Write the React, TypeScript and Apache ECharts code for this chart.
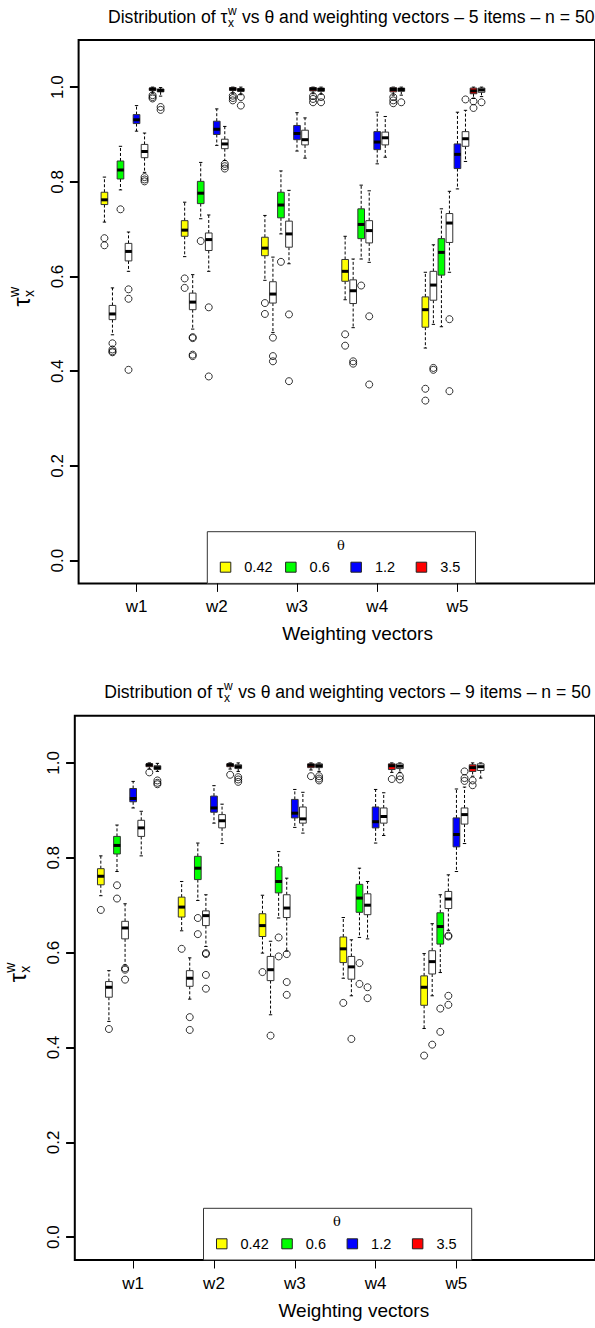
import React, { useEffect, useRef } from "react";
import * as echarts from "echarts";

// ---------- data ----------
const groups = ["w1", "w2", "w3", "w4", "w5"];
const thetaLabels = ["0.42", "0.6", "1.2", "3.5"];
const yTickValues = [0, 0.2, 0.4, 0.6, 0.8, 1.0];
const xTickValues = [1, 2, 3, 4, 5];
const titles = ["5 items – n = 50", "9 items – n = 50"];

// box stats per group w1..w5: [lower whisker, Q1, median, Q3, upper whisker]
// Panel A (5 items): coloured boxes (theta) and their white companion boxes
const a_col_042 = [[0.715, 0.752, 0.762, 0.778, 0.810], [0.642, 0.685, 0.698, 0.718, 0.757], [0.592, 0.644, 0.660, 0.683, 0.729], [0.551, 0.590, 0.611, 0.636, 0.685], [0.449, 0.493, 0.530, 0.557, 0.609]];
const a_ref_042 = [[0.477, 0.509, 0.521, 0.539, 0.576], [0.489, 0.530, 0.546, 0.565, 0.604], [0.482, 0.544, 0.563, 0.589, 0.641], [0.492, 0.543, 0.570, 0.593, 0.637], [0.499, 0.550, 0.582, 0.611, 0.667]];
const a_col_06 = [[0.783, 0.806, 0.825, 0.844, 0.875], [0.722, 0.754, 0.776, 0.801, 0.841], [0.690, 0.724, 0.751, 0.778, 0.823], [0.637, 0.680, 0.710, 0.743, 0.793], [0.494, 0.603, 0.651, 0.680, 0.743]];
const a_ref_06 = [[0.611, 0.633, 0.653, 0.670, 0.694], [0.611, 0.655, 0.678, 0.692, 0.730], [0.627, 0.662, 0.690, 0.717, 0.782], [0.630, 0.671, 0.697, 0.718, 0.781], [0.609, 0.672, 0.713, 0.733, 0.780]];
const a_col_12 = [[0.907, 0.923, 0.931, 0.942, 0.961], [0.877, 0.900, 0.911, 0.928, 0.954], [0.865, 0.889, 0.902, 0.919, 0.946], [0.838, 0.868, 0.884, 0.906, 0.947], [0.785, 0.828, 0.858, 0.880, 0.947]];
const a_ref_12 = [[0.820, 0.851, 0.864, 0.879, 0.903], [0.845, 0.870, 0.880, 0.890, 0.917], [0.850, 0.878, 0.889, 0.909, 0.935], [0.852, 0.878, 0.893, 0.905, 0.938], [0.843, 0.875, 0.891, 0.906, 0.951]];
const a_col_35 = [[0.988, 0.993, 0.996, 0.998, 1.0], [0.987, 0.993, 0.996, 0.999, 1.0], [0.986, 0.992, 0.996, 0.999, 1.0], [0.983, 0.990, 0.995, 0.999, 1.0], [0.976, 0.986, 0.992, 0.998, 1.0]];
const a_ref_35 = [[0.981, 0.990, 0.993, 0.996, 0.999], [0.984, 0.991, 0.994, 0.997, 1.0], [0.985, 0.991, 0.995, 0.998, 1.0], [0.983, 0.991, 0.995, 0.998, 1.0], [0.980, 0.989, 0.994, 0.998, 1.0]];

const a_out_col_042 = [[0.681, 0.666], [0.596, 0.576], [0.544, 0.521], [0.478, 0.454], [0.363, 0.338]];
const a_out_ref_042 = [[0.459, 0.446, 0.442, 0.440], [0.472, 0.470, 0.435, 0.432], [0.471, 0.432, 0.421], [0.421, 0.416], [0.407, 0.403]];
const a_out_col_06 = [[0.742], [0.675], [0.631], [0.581], []];
const a_out_ref_06 = [[0.573, 0.553, 0.403], [0.535, 0.389], [0.520, 0.379], [0.516, 0.372], [0.510, 0.358]];
const a_out_col_12 = [[], [], [], [], []];
const a_out_ref_12 = [[0.810, 0.805, 0.801], [0.838, 0.833, 0.828], [], [], [0.974]];
const a_out_col_35 = [[0.983, 0.979, 0.976], [0.982, 0.977, 0.972], [0.981, 0.975, 0.968], [0.979, 0.972, 0.966], [0.970, 0.956]];
const a_out_ref_35 = [[0.958, 0.952], [0.979, 0.961], [0.979, 0.968], [0.968], [0.968]];

// Panel B (9 items)
const b_col_042 = [[0.720, 0.743, 0.761, 0.777, 0.804], [0.646, 0.675, 0.696, 0.717, 0.750], [0.599, 0.634, 0.657, 0.682, 0.721], [0.546, 0.579, 0.608, 0.633, 0.674], [0.440, 0.489, 0.527, 0.551, 0.598]];
const b_ref_042 = [[0.455, 0.506, 0.527, 0.539, 0.562], [0.502, 0.529, 0.546, 0.562, 0.589], [0.469, 0.541, 0.564, 0.592, 0.624], [0.509, 0.544, 0.570, 0.592, 0.627], [0.509, 0.555, 0.581, 0.604, 0.661]];
const b_col_06 = [[0.771, 0.808, 0.826, 0.845, 0.869], [0.710, 0.754, 0.778, 0.803, 0.831], [0.673, 0.726, 0.750, 0.781, 0.813], [0.632, 0.685, 0.715, 0.744, 0.778], [0.558, 0.618, 0.655, 0.684, 0.722]];
const b_ref_06 = [[0.574, 0.629, 0.652, 0.666, 0.703], [0.613, 0.657, 0.678, 0.688, 0.722], [0.603, 0.674, 0.694, 0.722, 0.757], [0.629, 0.680, 0.700, 0.724, 0.750], [0.647, 0.693, 0.713, 0.729, 0.764]];
const b_col_12 = [[0.905, 0.918, 0.925, 0.946, 0.961], [0.873, 0.896, 0.905, 0.930, 0.952], [0.864, 0.884, 0.894, 0.923, 0.944], [0.831, 0.863, 0.876, 0.907, 0.944], [0.771, 0.823, 0.849, 0.884, 0.945]];
const b_ref_12 = [[0.804, 0.845, 0.863, 0.879, 0.898], [0.830, 0.863, 0.878, 0.891, 0.913], [0.852, 0.873, 0.882, 0.907, 0.938], [0.847, 0.873, 0.887, 0.905, 0.937], [0.830, 0.871, 0.891, 0.905, 0.949]];
const b_col_35 = [[0.987, 0.992, 0.996, 0.998, 1.0], [0.987, 0.992, 0.996, 0.998, 1.0], [0.985, 0.990, 0.995, 0.998, 1.0], [0.980, 0.986, 0.994, 0.998, 1.0], [0.972, 0.982, 0.990, 0.996, 1.0]];
const b_ref_35 = [[0.982, 0.986, 0.990, 0.994, 0.999], [0.982, 0.988, 0.992, 0.996, 1.0], [0.982, 0.990, 0.994, 0.998, 1.0], [0.980, 0.988, 0.993, 0.998, 1.0], [0.968, 0.984, 0.992, 0.998, 1.0]];

const b_out_col_042 = [[0.690], [0.608], [0.559], [0.494], [0.383]];
const b_out_ref_042 = [[0.439], [0.464, 0.437], [0.425], [0.418], [0.406]];
const b_out_col_06 = [[0.742, 0.714], [0.673, 0.639], [0.632, 0.592], [0.578, 0.534], [0.482, 0.433]];
const b_out_ref_06 = [[0.567, 0.564, 0.543], [0.599, 0.597, 0.553, 0.524], [0.597, 0.538, 0.511], [0.527, 0.504], [0.636, 0.634, 0.509, 0.490]];
const b_out_col_12 = [[], [], [], [], []];
const b_out_ref_12 = [[], [], [], [], [0.982, 0.968, 0.962]];
const b_out_col_35 = [[0.980], [0.975], [0.972], [0.966], [0.963, 0.953]];
const b_out_ref_35 = [[0.963, 0.958, 0.955], [0.970, 0.965, 0.960], [0.972, 0.967, 0.963], [0.972, 0.965], []];

const panelStats = [
  [a_col_042, a_ref_042, a_col_06, a_ref_06, a_col_12, a_ref_12, a_col_35, a_ref_35],
  [b_col_042, b_ref_042, b_col_06, b_ref_06, b_col_12, b_ref_12, b_col_35, b_ref_35],
];
const panelOutliers = [
  [a_out_col_042, a_out_ref_042, a_out_col_06, a_out_ref_06, a_out_col_12, a_out_ref_12, a_out_col_35, a_out_ref_35],
  [b_out_col_042, b_out_ref_042, b_out_col_06, b_out_ref_06, b_out_col_12, b_out_ref_12, b_out_col_35, b_out_ref_35],
];

// ---------- style / layout ----------
const FONT = "'Liberation Sans', Arial, Helvetica, sans-serif";
const thetaColors = ["#FFFF00", "#00FF00", "#0000FF", "#FF0000"];
const layout = [
  { left: 78.6, top: 40, height: 543.4 },
  { left: 74.8, top: 715.7, height: 544.3 },
];
const GRID_W = 568;
const X_MIN = 0.278;
const X_MAX = X_MIN + GRID_W / 88.25;
const Y_MIN = -0.048;
const Y_MAX = 1.0995;
const SLOT = 0.1;
const BOX_W = 0.083;

function xPos(g: number, k: number) {
  return g + 1 + (k - 4) * SLOT;
}

let measureCtx: CanvasRenderingContext2D | null = null;
function textWidth(text: string, size: number) {
  if (!measureCtx) measureCtx = document.createElement("canvas").getContext("2d");
  if (!measureCtx) return text.length * size * 0.5;
  measureCtx.font = `${size}px ${FONT}`;
  return measureCtx.measureText(text).width;
}

function boxRenderer(fill: string) {
  return (params: any, api: any) => {
    const x = api.value(0);
    const pLo = api.coord([x, api.value(1)]);
    const pQ1 = api.coord([x, api.value(2)]);
    const pMd = api.coord([x, api.value(3)]);
    const pQ3 = api.coord([x, api.value(4)]);
    const pHi = api.coord([x, api.value(5)]);
    const bw = api.size([BOX_W, 0])[0];
    const cx = pMd[0];
    const dash = { stroke: "#000", lineWidth: 1, lineDash: [3, 2] };
    const solid = { stroke: "#000", lineWidth: 1 };
    return {
      type: "group",
      children: [
        { type: "line", shape: { x1: cx, y1: pQ3[1], x2: cx, y2: pHi[1] }, style: dash },
        { type: "line", shape: { x1: cx, y1: pQ1[1], x2: cx, y2: pLo[1] }, style: dash },
        { type: "line", shape: { x1: cx - bw / 4, y1: pHi[1], x2: cx + bw / 4, y2: pHi[1] }, style: solid },
        { type: "line", shape: { x1: cx - bw / 4, y1: pLo[1], x2: cx + bw / 4, y2: pLo[1] }, style: solid },
        {
          type: "rect",
          shape: { x: cx - bw / 2, y: pQ3[1], width: bw, height: Math.max(pQ1[1] - pQ3[1], 0.5) },
          style: { fill, stroke: "#333", lineWidth: 1 },
        },
        { type: "line", shape: { x1: cx - bw / 2, y1: pMd[1], x2: cx + bw / 2, y2: pMd[1] }, style: { stroke: "#000", lineWidth: 3 } },
      ],
    };
  };
}

function titleGraphic(p: number) {
  const L = layout[p];
  const x0 = L.left + 29.4;
  const yc = L.top - 23.5;
  const fs = 17.6;
  const s1 = "Distribution of τ";
  const s2 = " vs θ and weighting vectors – " + titles[p];
  const w1 = textWidth(s1, fs);
  const wsup = Math.max(textWidth("w", 12), textWidth("x", 12));
  const common = { fill: "#000", fontFamily: FONT, verticalAlign: "middle", align: "left" };
  return [
    { type: "text", x: x0, y: yc, style: { ...common, text: s1, fontSize: fs } },
    { type: "text", x: x0 + w1 + 0.5, y: yc - 6, style: { ...common, text: "w", fontSize: 12 } },
    { type: "text", x: x0 + w1 + 0.5, y: yc + 6, style: { ...common, text: "x", fontSize: 12 } },
    { type: "text", x: x0 + w1 + wsup + 1, y: yc, style: { ...common, text: s2, fontSize: fs } },
  ];
}

function yNameGraphic(p: number) {
  const L = layout[p];
  const cx = L.left - 57;
  const cy = L.top + 262;
  const tw = textWidth("τ", 23);
  const common = { fill: "#000", fontFamily: FONT, verticalAlign: "middle" };
  return {
    type: "group",
    x: cx,
    y: cy,
    rotation: Math.PI / 2,
    children: [
      { type: "text", x: 0, y: 0, style: { ...common, text: "τ", fontSize: 23, align: "center" } },
      { type: "text", x: tw / 2 + 0.5, y: -8, style: { ...common, text: "w", fontSize: 14, align: "left" } },
      { type: "text", x: tw / 2 + 0.5, y: 7, style: { ...common, text: "x", fontSize: 14, align: "left" } },
    ],
  };
}

function xNameGraphic(p: number) {
  const L = layout[p];
  return {
    type: "text",
    x: L.left + 279,
    y: L.top + L.height + 50,
    style: { text: "Weighting vectors", fill: "#000", fontFamily: FONT, fontSize: 19, align: "center", verticalAlign: "middle" },
  };
}

function legendGraphic(p: number) {
  const L = layout[p];
  const bx = L.left + 128.7;
  const by = L.top + L.height - 51.7;
  const children: any[] = [
    { type: "rect", shape: { x: bx, y: by, width: 268.2, height: 51.7 }, style: { fill: "#fff", stroke: "#333", lineWidth: 1 } },
    {
      type: "text",
      x: bx + 133.5,
      y: by + 13.5,
      style: { text: "θ", fill: "#000", fontFamily: "'DejaVu Serif', serif", fontSize: 13, align: "center", verticalAlign: "middle" },
    },
  ];
  thetaLabels.forEach((lab, i) => {
    const sx = bx + 13 + i * 65.3;
    const sy = by + 35.5;
    children.push({ type: "rect", shape: { x: sx, y: sy - 5, width: 10.5, height: 10 }, style: { fill: thetaColors[i], stroke: "#222", lineWidth: 1 } });
    children.push({
      type: "text",
      x: sx + 24,
      y: sy,
      style: { text: lab, fill: "#000", fontFamily: FONT, fontSize: 14.5, align: "left", verticalAlign: "middle" },
    });
  });
  return { type: "group", children };
}

function buildOption() {
  const grid: any[] = [];
  const xAxis: any[] = [];
  const yAxis: any[] = [];
  const series: any[] = [];
  const graphic: any[] = [];

  for (let p = 0; p < 2; p++) {
    const L = layout[p];
    grid.push({ left: L.left, top: L.top, width: GRID_W, height: L.height, show: true, borderColor: "#000", borderWidth: 2, backgroundColor: "transparent" });
    xAxis.push({
      gridIndex: p,
      type: "value",
      position: "bottom",
      min: X_MIN,
      max: X_MAX,
      splitLine: { show: false },
      axisLine: { show: false, onZero: false },
      axisTick: { show: true, length: 8.5, lineStyle: { color: "#000", width: 1 }, customValues: xTickValues },
      axisLabel: {
        customValues: xTickValues,
        formatter: (v: number) => groups[Math.round(v) - 1] ?? "",
        fontSize: 17,
        fontFamily: FONT,
        color: "#000",
        margin: 15,
      },
    });
    yAxis.push({
      gridIndex: p,
      type: "value",
      position: "left",
      min: Y_MIN,
      max: Y_MAX,
      splitLine: { show: false },
      axisLine: { show: false, onZero: false },
      axisTick: { show: true, length: 8.7, lineStyle: { color: "#000", width: 2 }, customValues: yTickValues },
      axisLabel: {
        customValues: yTickValues,
        rotate: 90,
        formatter: (v: number) => v.toFixed(1),
        fontSize: 17,
        fontFamily: FONT,
        color: "#000",
        margin: 13,
      },
    });

    const stats = panelStats[p];
    const outs = panelOutliers[p];
    stats.forEach((rows, k) => {
      const fill = k % 2 === 0 ? thetaColors[k / 2] : "#FFFFFF";
      series.push({
        type: "custom",
        xAxisIndex: p,
        yAxisIndex: p,
        dimensions: ["x", "lo", "q1", "med", "q3", "hi"],
        encode: { x: 0, y: [1, 2, 3, 4, 5] },
        data: rows.map((r, g) => [xPos(g, k), ...r]),
        renderItem: boxRenderer(fill),
        silent: true,
      });
    });
    const outData: number[][] = [];
    outs.forEach((perGroup, k) => {
      perGroup.forEach((vals, g) => {
        vals.forEach((v) => outData.push([xPos(g, k), v]));
      });
    });
    series.push({
      type: "scatter",
      xAxisIndex: p,
      yAxisIndex: p,
      data: outData,
      symbol: "circle",
      symbolSize: 7,
      itemStyle: { color: "rgba(0,0,0,0)", borderColor: "#000", borderWidth: 1 },
      silent: true,
      z: 3,
    });

    graphic.push(...titleGraphic(p));
    graphic.push(yNameGraphic(p));
    graphic.push(xNameGraphic(p));
    graphic.push(legendGraphic(p));
  }

  return {
    animation: false,
    backgroundColor: "#fff",
    grid,
    xAxis,
    yAxis,
    series,
    graphic,
  };
}

export default function App() {
  const ref = useRef<HTMLDivElement>(null);
  useEffect(() => {
    if (!ref.current) return;
    const chart = echarts.init(ref.current, null, { renderer: "svg" });
    chart.setOption(buildOption() as any);
    return () => chart.dispose();
  }, []);
  return <div ref={ref} style={{ position: "absolute", left: 0, top: 0, width: 595, height: 1328, background: "#fff" }} />;
}
